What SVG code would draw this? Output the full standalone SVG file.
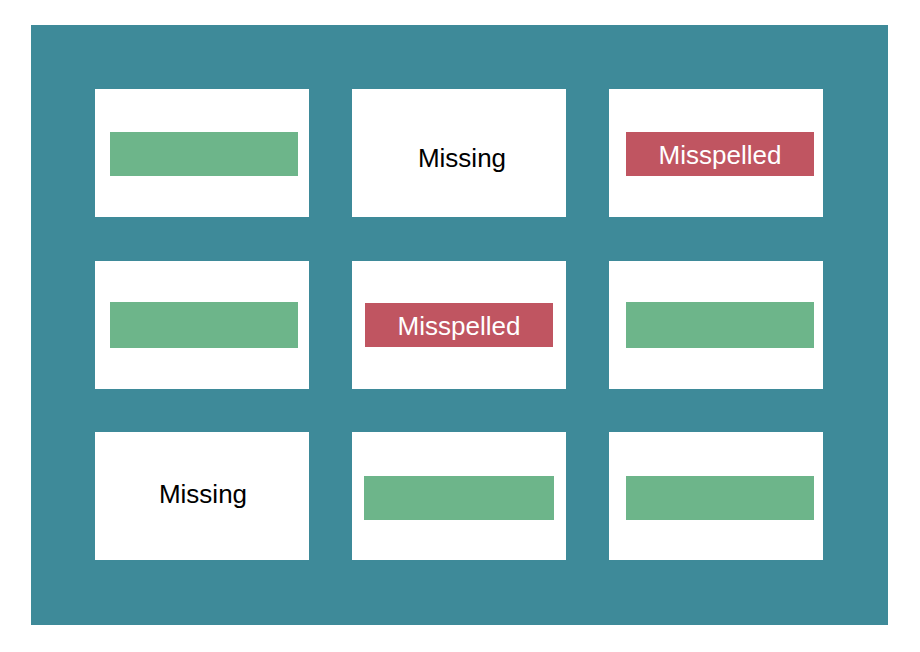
<svg xmlns="http://www.w3.org/2000/svg" width="920" height="652" viewBox="0 0 920 652">
<style>
.cell{fill:#fff}
.g{fill:#6DB58A}
.r{fill:#C05561}
text{font-family:"Liberation Sans",Arial,sans-serif;font-size:26px;text-anchor:middle;dominant-baseline:central}
.w{fill:#fff}
</style>
<rect x="31" y="25" width="857" height="600" fill="#3E8A99"/>
<g id="c11"><rect class="cell" x="95" y="89" width="214" height="128"/><rect class="g" x="110" y="132" width="188" height="44"/></g>
<g id="c12"><rect class="cell" x="352" y="89" width="214" height="128"/><text x="462" y="158">Missing</text></g>
<g id="c13"><rect class="cell" x="609" y="89" width="214" height="128"/><rect class="r" x="626" y="132" width="188" height="44"/><text class="w" x="720" y="155">Misspelled</text></g>
<g id="c21"><rect class="cell" x="95" y="261" width="214" height="128"/><rect class="g" x="110" y="302" width="188" height="46"/></g>
<g id="c22"><rect class="cell" x="352" y="261" width="214" height="128"/><rect class="r" x="365" y="303" width="188" height="44"/><text class="w" x="459" y="326">Misspelled</text></g>
<g id="c23"><rect class="cell" x="609" y="261" width="214" height="128"/><rect class="g" x="626" y="302" width="188" height="46"/></g>
<g id="c31"><rect class="cell" x="95" y="432" width="214" height="128"/><text x="203" y="494">Missing</text></g>
<g id="c32"><rect class="cell" x="352" y="432" width="214" height="128"/><rect class="g" x="364" y="476" width="190" height="44"/></g>
<g id="c33"><rect class="cell" x="609" y="432" width="214" height="128"/><rect class="g" x="626" y="476" width="188" height="44"/></g>
<g id="connectors"/>
</svg>
